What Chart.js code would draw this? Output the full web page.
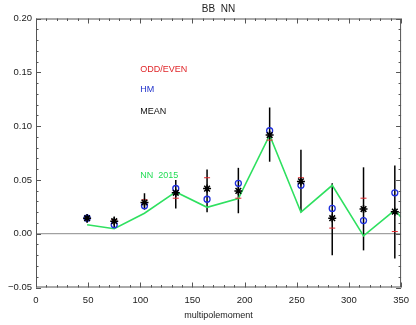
<!DOCTYPE html>
<html lang="en">
<head>
  <meta charset="UTF-8">
  <title>BB NN</title>
  <script src="https://cdn.jsdelivr.net/npm/chart.js"></script>
  <style>
    html, body { margin: 0; padding: 0; background: #ffffff; }
    .chart-wrapper { width: 416px; height: 325px; position: relative; }
  </style>
</head>
<body>
  <div class="chart-wrapper">
    <canvas id="bbChart"></canvas>
  </div>

  <script>
    // multipole bins
    const ell = [49, 75, 104, 134, 164, 194, 224, 254, 284, 314, 344];

    // NN 2015 curve (last point is where it leaves the frame)
    const ellNN = [49, 75, 104, 134, 164, 194, 224, 254, 284, 314, 344, 350];
    const nn2015 = [0.0083, 0.0046, 0.019, 0.0388, 0.0245, 0.0327, 0.0915, 0.020, 0.045, -0.002, 0.022, 0.0153];

    const oddEven = [0.014, 0.013, 0.0315, 0.033, 0.052, 0.033, 0.087, 0.052, 0.0052, 0.033, 0.002];
    const hm = [0.0144, 0.0083, 0.026, 0.042, 0.032, 0.0468, 0.0957, 0.045, 0.0235, 0.0122, 0.038];
    const mean = [0.0144, 0.0116, 0.029, 0.038, 0.0419, 0.0398, 0.0917, 0.0486, 0.0144, 0.0229, 0.0205];
    const meanLo = [0.0101, 0.0052, 0.0223, 0.0235, 0.0199, 0.019, 0.0669, 0.020, -0.020, -0.0155, -0.023];
    const meanHi = [0.0183, 0.016, 0.0376, 0.050, 0.0596, 0.0612, 0.1173, 0.078, 0.047, 0.0617, 0.0634];

    const yTicks = [-0.05, 0.00, 0.05, 0.10, 0.15, 0.20];
    const xTicks = [0, 50, 100, 150, 200, 250, 300, 350];

    const FONT = "'Liberation Sans', 'DejaVu Sans', sans-serif";

    function pts(xs, ys) {
      return xs.map((x, i) => ({ x: x, y: ys[i] }));
    }

    // frame, inward ticks, zero line, error bars, labels
    const idlFrame = {
      id: 'idlFrame',
      beforeDatasetsDraw(chart) {
        const ctx = chart.ctx;
        const xs = chart.scales.x, ys = chart.scales.y;
        const a = chart.chartArea;
        ctx.save();
        // zero line
        ctx.strokeStyle = '#8c8c8c';
        ctx.lineWidth = 1;
        ctx.beginPath();
        ctx.moveTo(a.left, ys.getPixelForValue(0));
        ctx.lineTo(a.right, ys.getPixelForValue(0));
        ctx.stroke();
        // error bars on MEAN
        ctx.strokeStyle = '#000000';
        ctx.lineWidth = 1.5;
        ell.forEach((l, i) => {
          const px = xs.getPixelForValue(l);
          ctx.beginPath();
          ctx.moveTo(px, ys.getPixelForValue(meanLo[i]));
          ctx.lineTo(px, ys.getPixelForValue(meanHi[i]));
          ctx.stroke();
        });
        ctx.restore();
      },
      afterDraw(chart) {
        const ctx = chart.ctx;
        const xs = chart.scales.x, ys = chart.scales.y;
        const a = chart.chartArea;
        ctx.save();
        ctx.strokeStyle = '#555555';
        ctx.lineWidth = 1;
        ctx.strokeRect(a.left + 0.5, a.top + 0.5, a.right - a.left - 1, a.bottom - a.top - 1);
        ctx.beginPath();
        for (let v = 0; v <= 350; v += 10) {
          const px = Math.round(xs.getPixelForValue(v)) + 0.5;
          const len = v % 50 === 0 ? 5 : 2.5;
          ctx.moveTo(px, a.bottom); ctx.lineTo(px, a.bottom - len);
          ctx.moveTo(px, a.top); ctx.lineTo(px, a.top + len);
        }
        for (let k = -5; k <= 20; k++) {
          const py = Math.round(ys.getPixelForValue(k / 100)) + 0.5;
          const len = k % 5 === 0 ? 5 : 2.5;
          ctx.moveTo(a.left, py); ctx.lineTo(a.left + len, py);
          ctx.moveTo(a.right, py); ctx.lineTo(a.right - len, py);
        }
        ctx.stroke();

        // title and axis label
        ctx.fillStyle = '#222222';
        ctx.textAlign = 'center';
        ctx.textBaseline = 'middle';
        ctx.font = '10px ' + FONT;
        ctx.fillText('BB  NN', (a.left + a.right) / 2, 9);
        ctx.font = '9px ' + FONT;
        ctx.fillText('multipolemoment', (a.left + a.right) / 2, 316);

        // in-plot legend text
        ctx.textAlign = 'left';
        ctx.font = '9px ' + FONT;
        const notes = [
          ['ODD/EVEN', '#e0262a', 0.153],
          ['HM', '#2233cc', 0.1336],
          ['MEAN', '#111111', 0.1131],
          ['NN  2015', '#22dd55', 0.0537]
        ];
        notes.forEach(n => {
          ctx.fillStyle = n[1];
          ctx.fillText(n[0], xs.getPixelForValue(100), ys.getPixelForValue(n[2]));
        });
        ctx.restore();
      }
    };

    new Chart(document.getElementById('bbChart'), {
      type: 'scatter',
      data: {
        datasets: [
          {
            label: 'MEAN',
            data: pts(ell, mean),
            pointStyle: 'star',
            pointRadius: 4,
            borderColor: '#000000',
            borderWidth: 1.5,
            showLine: false,
            order: 1
          },
          {
            label: 'HM',
            data: pts(ell, hm),
            pointStyle: 'circle',
            pointRadius: 3,
            backgroundColor: 'rgba(0,0,0,0)',
            borderColor: '#1f2fdc',
            borderWidth: 1.3,
            showLine: false,
            order: 2
          },
          {
            label: 'ODD/EVEN',
            data: pts(ell, oddEven),
            pointStyle: 'line',
            pointRadius: 3,
            borderColor: '#e0262a',
            borderWidth: 1,
            showLine: false,
            order: 3
          },
          {
            label: 'NN 2015',
            data: pts(ellNN, nn2015),
            showLine: true,
            borderColor: '#2fe060',
            borderWidth: 1.6,
            pointRadius: 0,
            tension: 0,
            order: 4
          }
        ]
      },
      options: {
        responsive: true,
        maintainAspectRatio: false,
        animation: false,
        layout: { padding: { top: 18.5, right: 12.5, left: 0, bottom: 0 } },
        plugins: {
          legend: { display: false },
          tooltip: { enabled: false }
        },
        scales: {
          x: {
            type: 'linear',
            min: 0,
            max: 350,
            afterFit: s => { s.height = 37.5; },
            afterBuildTicks: s => { s.ticks = xTicks.map(v => ({ value: v })); },
            grid: { display: false, drawTicks: false },
            border: { display: false },
            ticks: {
              padding: 7,
              maxRotation: 0,
              color: '#222222',
              font: { family: FONT, size: 9.5 }
            }
          },
          y: {
            type: 'linear',
            min: -0.05,
            max: 0.2,
            afterFit: s => { s.width = 36; },
            afterBuildTicks: s => { s.ticks = yTicks.map(v => ({ value: v })); },
            grid: { display: false, drawTicks: false },
            border: { display: false },
            ticks: {
              padding: 4,
              color: '#222222',
              font: { family: FONT, size: 9.5 },
              callback: v => (v < 0 ? '\u2212' + Math.abs(v).toFixed(2) : v.toFixed(2))
            }
          }
        }
      },
      plugins: [idlFrame]
    });
  </script>
</body>
</html>
